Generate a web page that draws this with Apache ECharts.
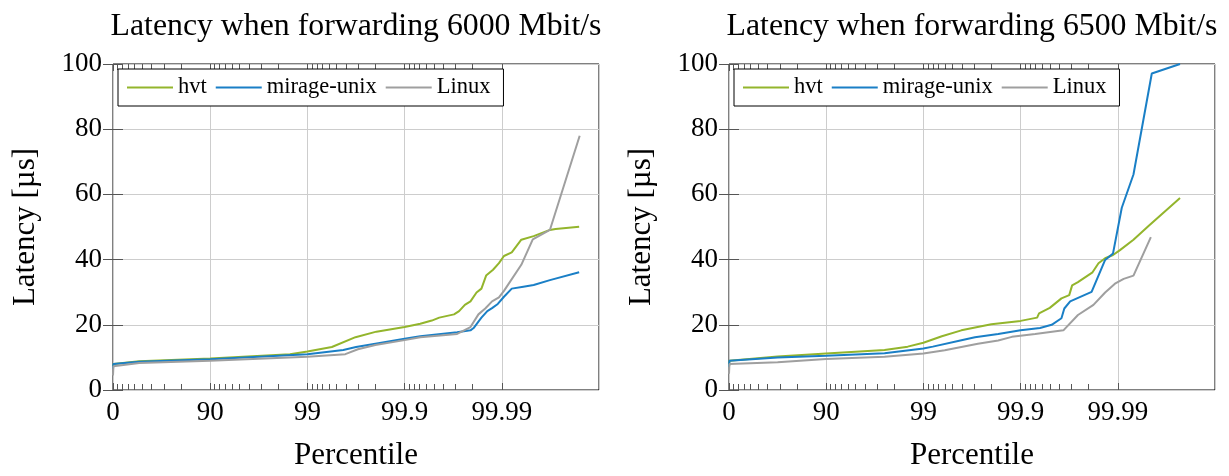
<!DOCTYPE html>
<html>
<head>
<meta charset="utf-8">
<script src="https://cdn.jsdelivr.net/npm/echarts@6/dist/echarts.min.js"></script>
<style>
html,body{margin:0;padding:0;background:#fff;}
#chart{width:1229px;height:476px;}
</style>
</head>
<body>
<div id="chart"></div>
<script>
// ---------- data (percentile, latency in µs) ----------
const titles = ['Latency when forwarding 6000 Mbit/s', 'Latency when forwarding 6500 Mbit/s'];
const seriesNames = ['hvt', 'mirage-unix', 'Linux'];
const seriesColors = ['#93b52c', '#1a7fc6', '#9f9f9f'];
const xTickLabels = ['0', '90', '99', '99.9', '99.99', ''];
const xMajorTicks = [0, 90, 99, 99.9, 99.99];
const xMinorTicks = [10, 20, 30, 40, 50, 60, 70, 80,
  91, 92, 93, 94, 95, 96, 97, 98,
  99.1, 99.2, 99.3, 99.4, 99.5, 99.6, 99.7, 99.8,
  99.91, 99.92, 99.93, 99.94, 99.95, 99.96, 99.97, 99.98];
const yTicks = [0, 20, 40, 60, 80, 100];

// 6000 Mbit/s
const p6000Hvt = [0, 1, 46.3, 90, 98.49, 99, 99.44, 99.68, 99.805, 99.9, 99.931, 99.9475, 99.956, 99.969, 99.9725, 99.976, 99.979, 99.9818, 99.9838, 99.9855, 99.9877, 99.9893, 99.9905, 99.9921, 99.9937, 99.9953, 99.9968, 99.9972, 99.9984];
const v6000Hvt = [7.0, 8.0, 8.8, 9.7, 11.0, 11.8, 13.2, 16.2, 17.9, 19.3, 20.3, 21.3, 22.2, 23.2, 24.2, 26.1, 27.2, 29.9, 31.1, 35.1, 36.9, 38.9, 41.1, 42.2, 46.1, 47.2, 49.1, 49.4, 50.1];
const p6000Mir = [0, 1, 46.3, 90, 99, 99.573, 99.684, 99.8, 99.9, 99.931, 99.9712, 99.979, 99.9805, 99.9826, 99.9838, 99.9859, 99.9874, 99.989, 99.9905, 99.9921, 99.994, 99.9953, 99.9968, 99.9984];
const v6000Mir = [6.5, 8.0, 8.7, 9.4, 11.0, 12.3, 13.2, 14.2, 15.7, 16.5, 17.7, 18.3, 19.0, 21.0, 22.2, 24.2, 25.1, 26.4, 28.6, 31.1, 31.7, 32.2, 33.7, 36.1];
const p6000Lin = [0, 1, 46.3, 90, 99, 99.593, 99.698, 99.8, 99.9, 99.931, 99.9712, 99.979, 99.9826, 99.9852, 99.9874, 99.9893, 99.9905, 99.9937, 99.9952, 99.9968, 99.99842];
const v6000Lin = [4.5, 7.3, 8.3, 9.0, 10.2, 11.0, 12.5, 13.8, 15.3, 16.2, 17.2, 19.3, 23.2, 25.0, 27.2, 28.4, 30.4, 38.4, 46.2, 49.1, 78.0];

// 6500 Mbit/s
const p6500Hvt = [0, 1, 68.4, 90, 97.49, 98.55, 99, 99.354, 99.593, 99.8, 99.9, 99.9324, 99.9354, 99.9499, 99.962, 99.9684, 99.9705, 99.9743, 99.9818, 99.9842, 99.9865, 99.9888, 99.9905, 99.9931, 99.9952, 99.99771];
const v6500Hvt = [7.0, 9.0, 10.3, 11.2, 12.3, 13.3, 14.5, 16.5, 18.3, 20.2, 21.2, 22.2, 23.5, 25.2, 28.1, 29.1, 32.1, 33.1, 36.1, 38.9, 40.4, 41.4, 42.9, 46.1, 50.4, 58.9];
const p6500Mir = [0, 1, 68.4, 90, 97.49, 99, 99.2, 99.583, 99.705, 99.83, 99.9, 99.9369, 99.9521, 99.962, 99.9645, 99.9691, 99.9814, 99.9865, 99.9888, 99.9909, 99.9931, 99.99553, 99.99771];
const v6500Mir = [7.0, 9.0, 10.0, 10.5, 11.3, 12.7, 13.3, 15.2, 16.2, 17.2, 18.3, 19.0, 20.0, 22.0, 25.0, 27.2, 30.1, 39.9, 41.9, 55.9, 66.1, 97.1, 100.0];
const p6500Lin = [0, 1, 68.4, 90, 97.49, 99, 99.397, 99.725, 99.83, 99.877, 99.9292, 99.9637, 99.9743, 99.9822, 99.9865, 99.9893, 99.9913, 99.9931, 99.99543];
const v6500Lin = [5.0, 8.0, 8.5, 9.5, 10.2, 11.2, 12.2, 14.2, 15.2, 16.3, 17.2, 18.3, 23.0, 26.1, 29.9, 32.6, 34.1, 35.1, 46.9];

const panels = [
  [[p6000Hvt, v6000Hvt], [p6000Mir, v6000Mir], [p6000Lin, v6000Lin]],
  [[p6500Hvt, v6500Hvt], [p6500Mir, v6500Mir], [p6500Lin, v6500Lin]]
];

// ---------- chart ----------
const FONT = 'Liberation Serif';
const tail = p => 100 - p;                      // data axis: inverted log axis of the tail (100 - percentile)
const decades = p => -Math.log10(1 - p / 100);  // same position, expressed in decades (for the tick-only axes)
const gridLeft = [113, 729];
const gridTop = 64, gridW = 486, gridH = 334;
const TICK = '#555555', GRIDC = '#cdcdcd';

function labelFor(v) {
  const e = Math.round(Math.log10(v));
  const idx = 2 - e;
  return xTickLabels[idx] !== undefined ? xTickLabels[idx] : '';
}

const grids = [], xAxes = [], yAxes = [], series = [], legends = [], titleOpts = [];
for (let g = 0; g < 2; g++) {
  grids.push({left: gridLeft[g], top: gridTop, width: gridW, height: gridH,
    show: true, borderColor: '#000', borderWidth: 1, backgroundColor: 'transparent'});
  // main data axis (labels + grid lines)
  xAxes.push({
    type: 'log', logBase: 10, gridIndex: g, min: 0.001, max: 100, inverse: true, position: 'bottom',
    axisLine: {show: false}, axisTick: {show: false},
    splitLine: {show: true, lineStyle: {color: GRIDC, width: 1}},
    axisLabel: {show: true, customValues: xMajorTicks.map(tail), formatter: labelFor, fontFamily: FONT, fontSize: 27, color: '#000', margin: 9},
    name: 'Percentile', nameLocation: 'middle', nameGap: 50,
    nameTextStyle: {fontFamily: FONT, fontSize: 31, color: '#000'}
  });
  // tick-only axes: bottom/top, major/minor
  const tickAxis = (pos, vals, len) => ({
    type: 'value', gridIndex: g, min: 0, max: 5, position: pos,
    axisLine: {show: false}, splitLine: {show: false}, axisLabel: {show: false},
    axisTick: {show: true, inside: true, length: len, customValues: vals.map(decades), lineStyle: {color: TICK, width: 1}}
  });
  xAxes.push(tickAxis('bottom', xMajorTicks, 7));
  xAxes.push(tickAxis('bottom', xMinorTicks, 6));
  xAxes.push(tickAxis('top', xMajorTicks, 7));
  xAxes.push(tickAxis('top', xMinorTicks, 6));

  yAxes.push({type: 'value', gridIndex: g, min: yTicks[0], max: yTicks[yTicks.length - 1], interval: 20, position: 'left',
    axisLine: {show: false},
    axisTick: {show: true, inside: true, length: 10, lineStyle: {color: TICK, width: 1}},
    splitLine: {show: true, lineStyle: {color: GRIDC, width: 1}},
    axisLabel: {fontFamily: FONT, fontSize: 27, color: '#000', margin: 11},
    name: 'Latency [µs]', nameLocation: 'middle', nameGap: 72,
    nameTextStyle: {fontFamily: FONT, fontSize: 31, color: '#000'}
  });
  yAxes.push({type: 'value', gridIndex: g, min: yTicks[0], max: yTicks[yTicks.length - 1], interval: 20, position: 'right',
    axisLine: {show: false},
    axisTick: {show: true, inside: true, length: 10, lineStyle: {color: TICK, width: 1}},
    splitLine: {show: false}, axisLabel: {show: false}
  });

  panels[g].forEach((s, i) => {
    series.push({
      name: seriesNames[i], type: 'line', xAxisIndex: g * 5, yAxisIndex: g * 2,
      data: s[0].map((p, k) => [tail(p), s[1][k]]),
      showSymbol: false, symbol: 'none', smooth: false, clip: true,
      lineStyle: {color: seriesColors[i], width: 2}, itemStyle: {color: seriesColors[i]},
      emphasis: {disabled: true}, animation: false
    });
  });

  legends.push({
    left: gridLeft[g] + 5, top: 69, orient: 'horizontal', data: seriesNames,
    icon: 'rect', itemWidth: 46, itemHeight: 2, itemGap: 9,
    backgroundColor: '#fff', borderColor: '#000', borderWidth: 1, borderRadius: 0,
    padding: [7, 13, 7, 9], selectedMode: false,
    textStyle: {fontFamily: FONT, fontSize: 22.5, color: '#000'}
  });

  titleOpts.push({
    text: titles[g], left: gridLeft[g] + gridW / 2, top: 11, textAlign: 'center', padding: 0,
    textStyle: {fontFamily: FONT, fontSize: 31.8, fontWeight: 'normal', color: '#000'}
  });
}

const chart = echarts.init(document.getElementById('chart'), null, {renderer: 'canvas'});
chart.setOption({
  animation: false,
  backgroundColor: '#fff',
  title: titleOpts,
  legend: legends,
  grid: grids,
  xAxis: xAxes,
  yAxis: yAxes,
  series: series
});
</script>
</body>
</html>
